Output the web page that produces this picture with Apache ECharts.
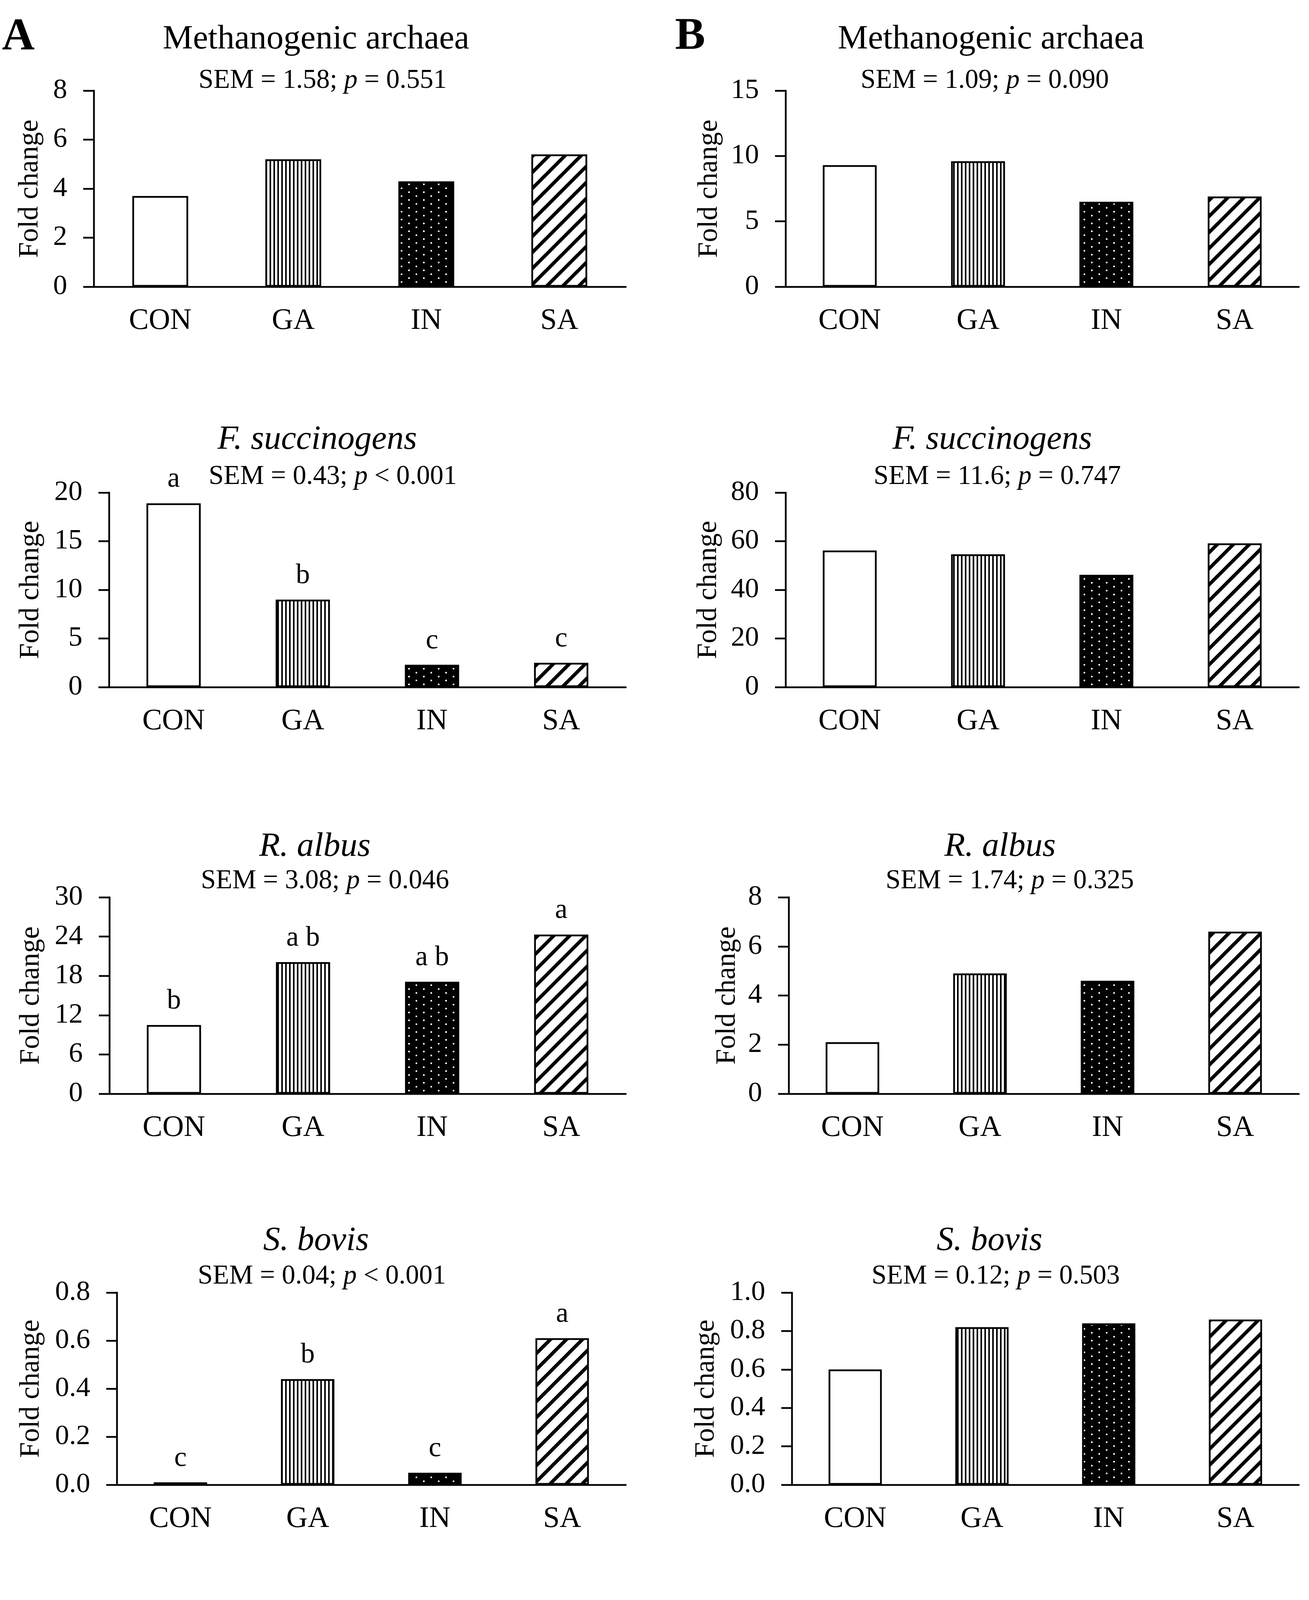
<!DOCTYPE html>
<html><head><meta charset="utf-8">
<script src="https://cdn.jsdelivr.net/npm/echarts@6/dist/echarts.min.js"></script>
<style>html,body{margin:0;padding:0;background:#fff}#c{width:3351px;height:4957px}</style>
</head><body><div id="c"></div>
<script>
// ---------- data ----------
const categories = ['CON', 'GA', 'IN', 'SA'];

const methanogenA = [3.7, 5.2, 4.3, 5.4];
const methanogenB = [9.3, 9.6, 6.5, 6.9];
const fSuccA = [18.9, 9.0, 2.3, 2.5];
const fSuccB = [56.2, 54.6, 46.2, 59.1];
const rAlbusA = [10.5, 20.1, 17.1, 24.3];
const rAlbusB = [2.1, 4.9, 4.6, 6.6];
const sBovisA = [0.01, 0.44, 0.05, 0.61];
const sBovisB = [0.60, 0.82, 0.84, 0.86];
const rFlavA = [0.04, 0.08, 0.08, 0.06];
const rFlavB = [1.79, 0.53, 0.69, 0.60];

const fSuccALetters = ['a', 'b', 'c', 'c'];
const rAlbusALetters = ['b', 'a b', 'a b', 'a'];
const sBovisALetters = ['c', 'b', 'c', 'a'];
const rFlavALetters = ['b', 'a', 'a', 'a b'];
const rFlavBLetters = ['a', 'b', 'b', 'b'];

const panelTitles = ['Methanogenic archaea', 'F. succinogens', 'R. albus', 'S. bovis', 'R. flavefaciens'];
const titleItalic = [false, true, true, true, true];

const semA = ['1.58', '0.43', '3.08', '0.04', '0.04'];
const pA = ['= 0.551', '< 0.001', '= 0.046', '< 0.001', '< 0.001'];
const semB = ['1.09', '11.6', '1.74', '0.12', '0.17'];
const pB = ['= 0.090', '= 0.747', '= 0.325', '= 0.503', '= 0.005'];

const yMaxA = [8, 20, 30, 0.8, 0.10];
const yIntA = [2, 5, 6, 0.2, 0.05];
const yDecA = [0, 0, 0, 1, 2];
const yMaxB = [15, 80, 8, 1.0, 2.0];
const yIntB = [5, 20, 2, 0.2, 0.5];
const yDecB = [0, 0, 0, 1, 1];

const yName = 'Fold change';

const valuesA = [methanogenA, fSuccA, rAlbusA, sBovisA, rFlavA];
const valuesB = [methanogenB, fSuccB, rAlbusB, sBovisB, rFlavB];
const lettersA = [null, fSuccALetters, rAlbusALetters, sBovisALetters, rFlavALetters];
const lettersB = [null, null, null, null, rFlavBLetters];

// ---------- layout (pixels) ----------
// [left, width, top, height]
const gridA = [[240,1362,232,502],[279,1323,1261,498],[280,1322,2297,503],[299,1303,3309,492],[336,1266,4307,502]];
const gridB = [[2011,1314,232,502],[2011,1314,1261,498],[2019,1306,2297,503],[2027,1298,3309,492],[2015,1310,4307,502]];
const nameGapA = [127, 164, 164, 183, 220];
const nameGapB = [159, 161, 121, 183, 165];
const titleY = [101, 1126, 2168, 3177, 4174];
const semY = [207, 1221, 2256, 3268, 4281];
const titleXA = [809, 812, 806, 809, 812];
const titleXB = [2537, 2540, 2560, 2533, 2538];
const semXA = [826, 852, 832, 824, 806];
const semXB = [2521, 2553, 2585, 2549, 2585];

const FONT = 'Liberation Serif';

// ---------- patterns ----------
function mk(w, h, draw) {
  const c = document.createElement('canvas');
  c.width = w; c.height = h;
  const ctx = c.getContext('2d');
  draw(ctx, w, h);
  return c;
}
const patGA = mk(10, 10, (ctx, w, h) => {
  ctx.fillStyle = '#fff'; ctx.fillRect(0, 0, w, h);
  ctx.fillStyle = '#000'; ctx.fillRect(0, 0, 4, h);
});
const patIN = mk(38, 20, (ctx, w, h) => {
  ctx.fillStyle = '#000'; ctx.fillRect(0, 0, w, h);
  ctx.fillStyle = '#fff';
  ctx.fillRect(0, 0, 4, 4);
  ctx.fillRect(19, 10, 4, 4);
});
const patSA = mk(41, 41, (ctx, w, h) => {
  ctx.fillStyle = '#fff'; ctx.fillRect(0, 0, w, h);
  ctx.strokeStyle = '#000'; ctx.lineWidth = 9; ctx.lineCap = 'square';
  ctx.beginPath();
  for (let k = -1; k <= 1; k++) {
    ctx.moveTo(k * w, h); ctx.lineTo(k * w + w, 0);
  }
  ctx.stroke();
});
const fills = ['#ffffff', { image: patGA, repeat: 'repeat' }, { image: patIN, repeat: 'repeat' }, { image: patSA, repeat: 'repeat' }];

// ---------- build option ----------
const grids = [], xAxes = [], yAxes = [], series = [], graphics = [];

function addPanel(g, vals, letters, ymax, yint, dec, nameGap) {
  const idx = grids.length;
  grids.push({ left: g[0], width: g[1], top: g[2], height: g[3] });
  xAxes.push({
    type: 'category', gridIndex: idx, data: categories,
    axisLine: { show: true, lineStyle: { color: '#000', width: 4.5 } },
    axisTick: { show: false },
    axisLabel: { color: '#000', fontSize: 76, fontFamily: FONT, margin: 50, interval: 0 },
    splitLine: { show: false }
  });
  yAxes.push({
    type: 'value', gridIndex: idx, min: 0, max: ymax, interval: yint,
    name: yName, nameLocation: 'middle', nameGap: nameGap, nameRotate: 90,
    nameTextStyle: { color: '#000', fontSize: 72, fontFamily: FONT },
    axisLine: { show: true, lineStyle: { color: '#000', width: 4.5 } },
    axisTick: { show: true, inside: false, length: 27, lineStyle: { color: '#000', width: 4.5 } },
    axisLabel: { color: '#000', fontSize: 72, fontFamily: FONT, margin: 68,
      showMinLabel: true, showMaxLabel: true,
      formatter: v => Number(v).toFixed(dec) },
    splitLine: { show: false }
  });
  series.push({
    type: 'bar', xAxisIndex: idx, yAxisIndex: idx, barWidth: '42%', silent: true,
    data: vals.map((v, j) => ({ value: v, itemStyle: { color: fills[j] } })),
    itemStyle: { borderColor: '#000', borderWidth: 4.5 },
    label: {
      show: !!letters, position: 'top', distance: 25,
      formatter: p => (letters ? letters[p.dataIndex] : ''),
      color: '#000', fontSize: 72, fontFamily: FONT
    }
  });
}

for (let r = 0; r < 5; r++) {
  addPanel(gridA[r], valuesA[r], lettersA[r], yMaxA[r], yIntA[r], yDecA[r], nameGapA[r]);
  addPanel(gridB[r], valuesB[r], lettersB[r], yMaxB[r], yIntB[r], yDecB[r], nameGapB[r]);
  [[titleXA[r], semXA[r], semA[r], pA[r]], [titleXB[r], semXB[r], semB[r], pB[r]]].forEach(t => {
    graphics.push({
      type: 'text', x: t[0], y: titleY[r], silent: true,
      style: { text: panelTitles[r], fontSize: 87, fontFamily: FONT,
        fontStyle: titleItalic[r] ? 'italic' : 'normal', fill: '#000',
        align: 'center', verticalAlign: 'middle' }
    });
    graphics.push({
      type: 'text', x: t[1], y: semY[r], silent: true,
      style: { text: 'SEM = ' + t[2] + '; {i|p} ' + t[3], fontSize: 69, fontFamily: FONT, fill: '#000',
        align: 'center', verticalAlign: 'middle',
        rich: { i: { fontSize: 69, fontFamily: FONT, fontStyle: 'italic', fill: '#000' } } }
    });
  });
}
graphics.push({ type: 'text', x: 5, y: 96, silent: true,
  style: { text: 'A', fontSize: 116, fontWeight: 'bold', fontFamily: FONT, fill: '#000', align: 'left', verticalAlign: 'middle' } });
graphics.push({ type: 'text', x: 1728, y: 95, silent: true,
  style: { text: 'B', fontSize: 116, fontWeight: 'bold', fontFamily: FONT, fill: '#000', align: 'left', verticalAlign: 'middle' } });

const chart = echarts.init(document.getElementById('c'), null, { renderer: 'canvas' });
chart.setOption({
  animation: false,
  backgroundColor: '#fff',
  grid: grids, xAxis: xAxes, yAxis: yAxes, series: series,
  graphic: graphics
});
</script>
</body></html>
